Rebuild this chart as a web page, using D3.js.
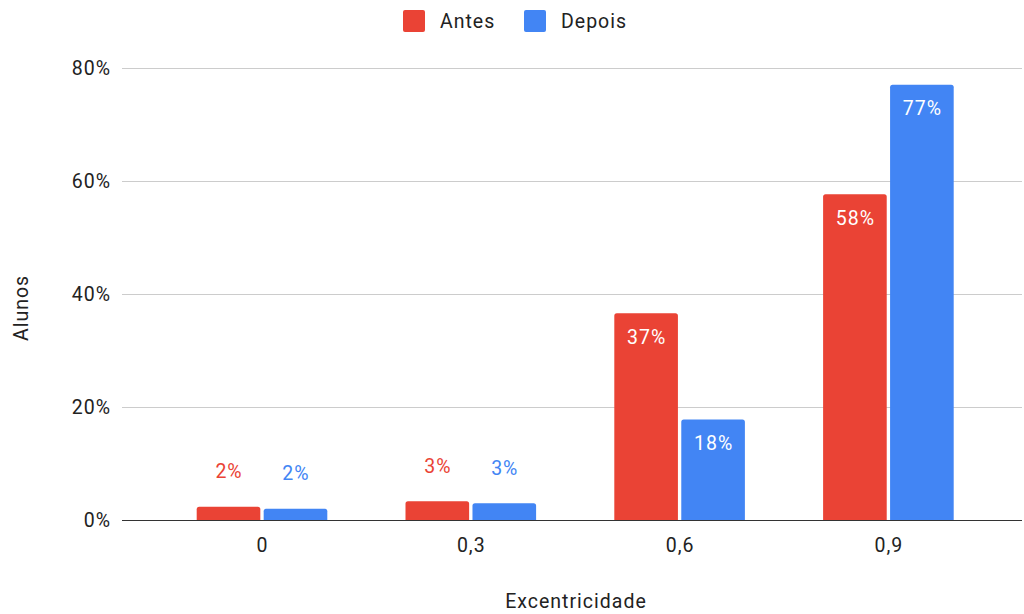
<!DOCTYPE html>
<html>
<head>
<meta charset="utf-8">
<script src="https://cdn.jsdelivr.net/npm/d3@7/dist/d3.min.js"></script>
<style>
  html, body { margin: 0; padding: 0; background: #fff; }
  svg { display: block; font-family: Roboto, "Noto Sans", Arial, sans-serif; }
  svg text { letter-spacing: 1px; }
</style>
</head>
<body>
<svg id="chart" width="1024" height="614"></svg>
<script>
// Categories (eccentricity) and series values, in percent
const categories = ["0", "0,3", "0,6", "0,9"];
const seriesNames = ["Antes", "Depois"];
const antes = [2.35, 3.3, 36.6, 57.7];
const depois = [2.0, 2.95, 17.8, 77.1];
const yTicks = [0, 20, 40, 60, 80];
const colors = { Antes: "#EA4335", Depois: "#4285F4" };

const svg = d3.select("#chart");
const plotLeft = 122, plotRight = 1022, plotTop = 68.3, plotBottom = 520;

const y = d3.scaleLinear().domain([0, 80]).range([plotBottom, plotTop]);
const x0 = d3.scaleBand().domain(categories).range([157.6, 992.8])
  .paddingInner(0.3745).paddingOuter(0.18725);
const x1 = d3.scaleBand().domain(seriesNames).range([0, x0.bandwidth()]).paddingInner(0.05);

const rows = categories.map((c, i) => ({ cat: c, values: [
  { key: "Antes", v: antes[i] }, { key: "Depois", v: depois[i] }
]}));

// gridlines
svg.append("g").selectAll("line").data(yTicks.filter(t => t > 0)).join("line")
  .attr("x1", plotLeft).attr("x2", plotRight)
  .attr("y1", d => Math.round(y(d)) + 0.5).attr("y2", d => Math.round(y(d)) + 0.5)
  .attr("stroke", "#cccccc").attr("stroke-width", 1);

// y tick labels
svg.append("g").selectAll("text").data(yTicks).join("text")
  .attr("x", 111).attr("y", d => y(d))
  .attr("text-anchor", "end").attr("dominant-baseline", "central")
  .attr("font-size", 19.5).attr("fill", "#222")
  .text(d => d + "%");

// bars with rounded top corners
function barPath(x, yTop, w, h, r) {
  r = Math.min(r, h, w / 2);
  return `M${x},${yTop + h}V${yTop + r}Q${x},${yTop} ${x + r},${yTop}H${x + w - r}Q${x + w},${yTop} ${x + w},${yTop + r}V${yTop + h}Z`;
}

const groups = svg.append("g").selectAll("g").data(rows).join("g")
  .attr("transform", d => `translate(${x0(d.cat)},0)`);

groups.selectAll("path").data(d => d.values).join("path")
  .attr("d", d => barPath(x1(d.key), y(d.v), x1.bandwidth(), y(0) - y(d.v), 2.5))
  .attr("fill", d => colors[d.key]);

// value labels: inside the bar when tall enough, otherwise above it
groups.selectAll("text").data(d => d.values).join("text")
  .attr("x", d => x1(d.key) + x1.bandwidth() / 2 + 0.5)
  .attr("y", d => (y(0) - y(d.v) > 40) ? y(d.v) + 24 : y(d.v) - 35)
  .attr("text-anchor", "middle").attr("dominant-baseline", "central")
  .attr("font-size", 19.5)
  .attr("fill", d => (y(0) - y(d.v) > 40) ? "#ffffff" : colors[d.key])
  .text(d => Math.round(d.v) + "%");

// baseline
svg.append("line")
  .attr("x1", plotLeft).attr("x2", plotRight)
  .attr("y1", y(0) + 0.5).attr("y2", y(0) + 0.5)
  .attr("stroke", "#333").attr("stroke-width", 1.2);

// x category labels
svg.append("g").selectAll("text").data(categories).join("text")
  .attr("x", d => x0(d) + x0.bandwidth() / 2 + 0.5).attr("y", 552)
  .attr("text-anchor", "middle").attr("font-size", 19.5).attr("fill", "#222")
  .text(d => d);

// axis titles
svg.append("text").attr("x", 576).attr("y", 608)
  .attr("text-anchor", "middle").attr("font-size", 19.5).attr("fill", "#222")
  .text("Excentricidade");

svg.append("text").attr("transform", "translate(21,308) rotate(-90)")
  .attr("text-anchor", "middle").attr("dominant-baseline", "central")
  .attr("font-size", 19.5).attr("fill", "#222")
  .text("Alunos");

// legend
const legendItems = [{ key: "Antes", x: 403 }, { key: "Depois", x: 524 }];
const lg = svg.append("g").selectAll("g").data(legendItems).join("g")
  .attr("transform", d => `translate(${d.x},10)`);
lg.append("rect").attr("width", 22).attr("height", 22).attr("rx", 2)
  .attr("fill", d => colors[d.key]);
lg.append("text").attr("x", 37).attr("y", 11)
  .attr("dominant-baseline", "central").attr("font-size", 19.5).attr("fill", "#222")
  .text(d => d.key);
</script>
</body>
</html>
